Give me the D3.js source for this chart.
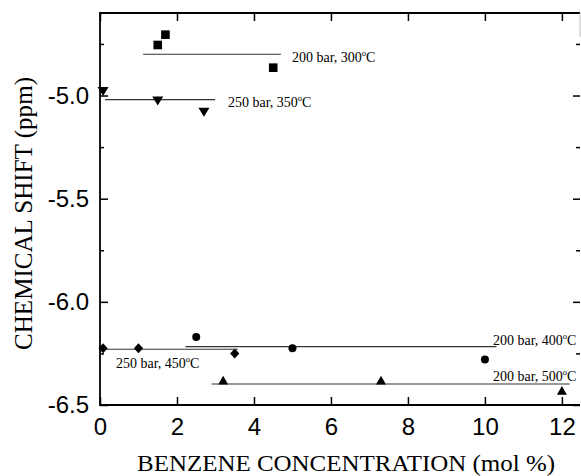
<!DOCTYPE html>
<html>
<head>
<meta charset="utf-8">
<script src="https://cdn.jsdelivr.net/npm/d3@7"></script>
<style>
  html, body { margin: 0; padding: 0; background: #fff; }
  svg { display: block; }
  .tick text { font-family: "Liberation Sans", Arial, sans-serif; font-size: 24px; fill: #000; }
  .serif { font-family: "Liberation Serif", "Times New Roman", serif; fill: #000; }
</style>
</head>
<body>
<svg id="chart" width="581" height="476"></svg>
<script>
// Benzene concentration (mol %) and chemical shift (ppm) for each run condition
const conditions = ["200 bar, 300", "250 bar, 350", "200 bar, 400", "250 bar, 450", "200 bar, 500"];
const markerShapes = ["square", "triangleDown", "circle", "diamond", "triangleUp"];

const conc300 = [1.5, 1.7, 4.5];
const shift300 = [-4.755, -4.705, -4.865];
const conc350 = [0.08, 1.5, 2.7];
const shift350 = [-4.98, -5.025, -5.08];
const conc400 = [2.5, 5.0, 10.0];
const shift400 = [-6.17, -6.225, -6.28];
const conc450 = [0.08, 1.0, 3.5];
const shift450 = [-6.225, -6.225, -6.25];
const conc500 = [3.2, 7.3, 12.0];
const shift500 = [-6.38, -6.38, -6.43];

// Average-shift lines drawn across each series (level, start, end in mol %)
const lineLevel = [-4.80, -5.02, -6.217, -6.23, -6.398];
const lineStart = [1.12, 0.13, 2.22, 0.0, 2.9];
const lineEnd = [4.7, 2.99, 10.3, 3.58, 12.2];

// Tick values
const xTicks = [0, 2, 4, 6, 8, 10, 12];
const yTicks = [-5.0, -5.5, -6.0, -6.5];
const yMinorTicks = [-4.75, -5.25, -5.75, -6.25];

const concs = [conc300, conc350, conc400, conc450, conc500];
const shifts = [shift300, shift350, shift400, shift450, shift500];

const svg = d3.select("#chart");
const plotLeft = 100, plotRight = 580, plotTop = 13, plotBottom = 405;

const x = d3.scaleLinear().domain([0, 12.47]).range([plotLeft, plotRight]);
const y = d3.scaleLinear().domain([-6.5, -4.6]).range([plotBottom, plotTop]);

function styleTicks(g) {
  g.select(".domain").remove();
  g.selectAll(".tick line").attr("stroke", "#000").attr("stroke-width", 1.5);
}

// Bottom axis with inward ticks
svg.append("g").attr("transform", `translate(0,${plotBottom})`)
  .call(d3.axisBottom(x).tickValues(xTicks).tickFormat(d3.format("d")).tickSize(-8).tickPadding(13))
  .call(styleTicks);

// Top axis ticks
svg.append("g").attr("transform", `translate(0,${plotTop})`)
  .call(d3.axisTop(x).tickValues(xTicks).tickFormat("").tickSize(-8))
  .call(styleTicks);

// Left axis with inward ticks
svg.append("g").attr("transform", `translate(${plotLeft},0)`)
  .call(d3.axisLeft(y).tickValues(yTicks).tickFormat(d => d3.format(".1f")(d).replace("\u2212", "-")).tickSize(-8).tickPadding(11))
  .call(styleTicks);

svg.append("g").attr("transform", `translate(${plotLeft},0)`)
  .call(d3.axisLeft(y).tickValues(yMinorTicks).tickFormat("").tickSize(-4))
  .call(styleTicks);

// Right axis ticks
svg.append("g").attr("transform", `translate(${plotRight},0)`)
  .call(d3.axisRight(y).tickValues(yTicks).tickFormat("").tickSize(-7))
  .call(styleTicks);
svg.append("g").attr("transform", `translate(${plotRight},0)`)
  .call(d3.axisRight(y).tickValues(yMinorTicks).tickFormat("").tickSize(-4))
  .call(styleTicks);

// Frame (top, left, bottom)
svg.append("path")
  .attr("d", `M${plotRight},${plotTop}H${plotLeft}V${plotBottom}H${plotRight}`)
  .attr("stroke", "#000").attr("stroke-width", 1.8).attr("fill", "none");
svg.append("path")
  .attr("d", `M${plotRight},${plotTop}V${plotTop + 24}`)
  .attr("stroke", "#bbb").attr("stroke-width", 1).attr("fill", "none");

// Mean lines
svg.append("g").selectAll("line")
  .data(lineLevel)
  .join("line")
  .attr("x1", (d, i) => x(lineStart[i]))
  .attr("x2", (d, i) => x(lineEnd[i]))
  .attr("y1", d => y(d))
  .attr("y2", d => y(d))
  .attr("stroke", "#333")
  .attr("stroke-width", 1.1);

// Marker paths
function markerPath(shape) {
  switch (shape) {
    case "square": return "M-4.3,-4.3H4.3V4.3H-4.3Z";
    case "triangleDown": return "M-5.5,-4.3H5.5L0,4.7Z";
    case "triangleUp": return "M-5,4.3H5L0,-4.5Z";
    case "diamond": return "M0,-5L4.6,0L0,5L-4.6,0Z";
    case "circle": return "M-4,0A4,4 0 1,0 4,0A4,4 0 1,0 -4,0Z";
  }
}

const points = [];
concs.forEach((cs, i) => cs.forEach((c, j) => points.push({ c, s: shifts[i][j], shape: markerShapes[i] })));

svg.append("g").selectAll("path")
  .data(points)
  .join("path")
  .attr("transform", d => `translate(${x(d.c)},${y(d.s)})`)
  .attr("d", d => markerPath(d.shape))
  .attr("fill", "#000");

// Condition labels
const labelPos = [
  { lx: 292, ly: 62 },
  { lx: 228, ly: 107 },
  { lx: 493, ly: 345 },
  { lx: 116, ly: 368 },
  { lx: 493, ly: 381 }
];
const labels = svg.append("g");
conditions.forEach((t, i) => {
  const txt = labels.append("text")
    .attr("class", "serif")
    .attr("x", labelPos[i].lx)
    .attr("y", labelPos[i].ly)
    .attr("font-size", 14);
  txt.append("tspan").text(t);
  txt.append("tspan").attr("font-size", 8.5).attr("dy", -6.5).text("o");
  txt.append("tspan").attr("dy", 6.5).text("C");
});

// Axis titles
svg.append("text")
  .attr("class", "serif")
  .attr("x", 346).attr("y", 471)
  .attr("text-anchor", "middle")
  .attr("font-size", 23.5)
  .attr("textLength", 418)
  .attr("lengthAdjust", "spacingAndGlyphs")
  .text("BENZENE CONCENTRATION (mol %)");

svg.append("text")
  .attr("class", "serif")
  .attr("transform", "translate(32,213.5) rotate(-90)")
  .attr("text-anchor", "middle")
  .attr("font-size", 25)
  .attr("textLength", 273)
  .attr("lengthAdjust", "spacingAndGlyphs")
  .text("CHEMICAL SHIFT (ppm)");
</script>
</body>
</html>
